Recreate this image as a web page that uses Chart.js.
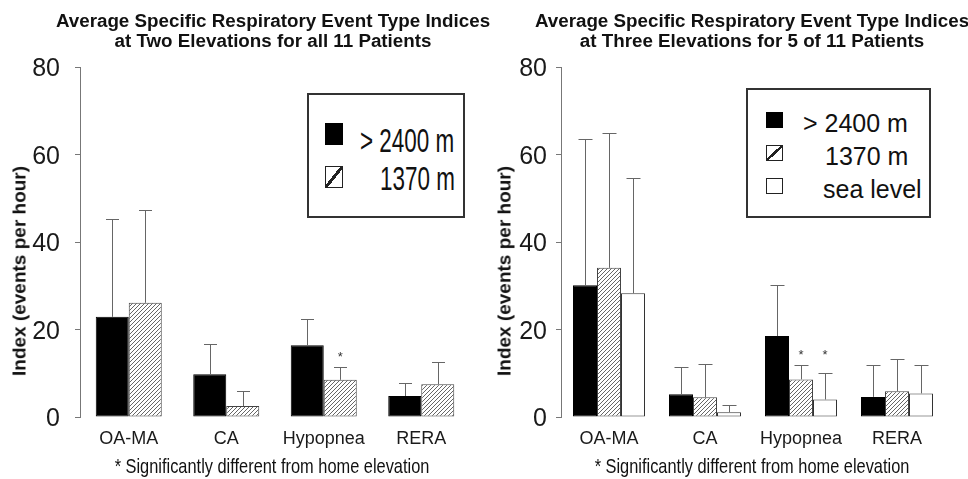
<!DOCTYPE html>
<html>
<head>
<meta charset="utf-8">
<script src="https://cdn.jsdelivr.net/npm/chart.js@4.4.1/dist/chart.umd.min.js"></script>
<style>
html,body{margin:0;padding:0;background:#fff;}
#wrap{position:relative;width:968px;height:479px;overflow:hidden;font-family:"Liberation Sans",Arial,sans-serif;color:#111;}
canvas{position:absolute;top:0;}
.title{position:absolute;top:11px;width:500px;margin-left:-250px;text-align:center;font-weight:bold;font-size:18.8px;line-height:20px;white-space:nowrap;}
.ytitle{position:absolute;font-weight:bold;font-size:19px;line-height:19px;white-space:nowrap;transform:translate(-50%,-50%) rotate(-90deg);}
.note{position:absolute;top:454px;width:600px;margin-left:-300px;text-align:center;font-size:21px;line-height:24px;white-space:nowrap;transform:scaleX(0.78);}
.legend{position:absolute;border:2px solid #333;box-sizing:border-box;background:#fff;}
.sw{position:absolute;box-sizing:border-box;}
.sw.black{background:#000;}
.sw.hatch{border:1.5px solid #222;background:linear-gradient(to bottom right,#fff 44%,#222 44%,#222 56%,#fff 56%);}
.sw.white{border:1.5px solid #222;background:#fff;}
.lt{position:absolute;white-space:nowrap;}
.lt.narrow{font-size:34px;line-height:34px;transform:scaleX(0.66);transform-origin:left center;}
.lt.norm{font-size:25px;line-height:25px;}
</style>
</head>
<body>
<div id="wrap">
  <canvas id="c1" width="484" height="479" style="left:0"></canvas>
  <canvas id="c2" width="484" height="479" style="left:484px"></canvas>

  <div class="title" style="left:273px">Average Specific Respiratory Event Type Indices<br>at Two Elevations for all 11 Patients</div>
  <div class="title" style="left:752px">Average Specific Respiratory Event Type Indices<br>at Three Elevations for 5 of 11 Patients</div>

  <div class="ytitle" style="left:19px;top:271px">Index (events per hour)</div>
  <div class="ytitle" style="left:504px;top:271px">Index (events per hour)</div>

  <div class="note" style="left:272px">* Significantly different from home elevation</div>
  <div class="note" style="left:752px">* Significantly different from home elevation</div>

  <div class="legend" style="left:307px;top:93px;width:158px;height:125px"></div>
  <div class="sw black" style="left:325px;top:123px;width:18px;height:22px"></div>
  <div class="sw hatch" style="left:325px;top:166px;width:18px;height:22px"></div>
  <div class="lt narrow" id="l1a" style="left:360px;top:123px"></div>
  <div class="lt narrow" id="l1b" style="left:380px;top:161px"></div>

  <div class="legend" style="left:746px;top:88px;width:185px;height:130px"></div>
  <div class="sw black" style="left:766px;top:112px;width:17px;height:16px"></div>
  <div class="sw hatch" style="left:766px;top:145px;width:17px;height:16px"></div>
  <div class="sw white" style="left:766px;top:178px;width:17px;height:16px"></div>
  <div class="lt norm" id="l2a" style="left:803px;top:111px"></div>
  <div class="lt norm" id="l2b" style="left:825px;top:144px"></div>
  <div class="lt norm" id="l2c" style="left:823px;top:177px"></div>
</div>
<script>
// ---------- data ----------
const categories = ['OA-MA', 'CA', 'Hypopnea', 'RERA'];
const yTicks = [0, 20, 40, 60, 80];
const seriesLabels = ['> 2400 m', '1370 m', 'sea level'];

// Left: two elevations, all 11 patients
const twoElev2400 = [22.9, 9.8, 16.4, 4.8];
const twoElev1370 = [26.1, 2.5, 8.5, 7.5];
const twoElevSd2400 = [22.3, 7.0, 6.1, 3.0];
const twoElevSd1370 = [21.1, 3.4, 2.9, 5.0];
const twoElevSig2400 = [false, false, false, false];
const twoElevSig1370 = [false, false, true, false];

// Right: three elevations, 5 of 11 patients
const threeElev2400 = [30.1, 5.2, 18.5, 4.6];
const threeElev1370 = [34.1, 4.5, 8.6, 5.9];
const threeElevSea = [28.3, 1.1, 4.0, 5.4];
const threeElevSd2400 = [33.5, 6.3, 11.6, 7.4];
const threeElevSd1370 = [30.9, 7.6, 3.3, 7.3];
const threeElevSdSea = [26.3, 1.6, 6.1, 6.5];
const threeElevSig2400 = [false, false, false, false];
const threeElevSig1370 = [false, false, true, false];
const threeElevSigSea = [false, false, true, false];

// ---------- legend text ----------
document.getElementById('l1a').textContent = seriesLabels[0];
document.getElementById('l1b').textContent = seriesLabels[1];
document.getElementById('l2a').textContent = seriesLabels[0];
document.getElementById('l2b').textContent = seriesLabels[1];
document.getElementById('l2c').textContent = seriesLabels[2];

const FONT = '"Liberation Sans", Arial, sans-serif';

function hatchPattern() {
  const c = document.createElement('canvas');
  c.width = 4; c.height = 4;
  const x = c.getContext('2d');
  x.fillStyle = '#fff'; x.fillRect(0, 0, 4, 4);
  x.strokeStyle = '#666'; x.lineWidth = 1;
  x.beginPath();
  x.moveTo(-1, 5); x.lineTo(5, -1);
  x.moveTo(-1, 1); x.lineTo(1, -1);
  x.moveTo(3, 5); x.lineTo(5, 3);
  x.stroke();
  return x.createPattern(c, 'repeat');
}
const HATCH = hatchPattern();

const errorBars = {
  id: 'errorBars',
  afterDatasetsDraw(chart, args, opts) {
    const ctx = chart.ctx, ys = chart.scales.y;
    ctx.save();
    ctx.strokeStyle = opts.color;
    ctx.lineWidth = 1;
    const caps = [];
    chart.data.datasets.forEach((ds, i) => {
      const meta = chart.getDatasetMeta(i);
      caps[i] = [];
      meta.data.forEach((bar, j) => {
        const top = Math.round(ys.getPixelForValue(ds.data[j] + ds.sd[j])) + 0.5;
        const x = Math.round(bar.x) + 0.5;
        caps[i][j] = top;
        ctx.beginPath();
        ctx.moveTo(x, bar.y);
        ctx.lineTo(x, top);
        ctx.moveTo(x - opts.cap / 2, top);
        ctx.lineTo(x + opts.cap / 2, top);
        ctx.stroke();
      });
    });
    // significance asterisks
    ctx.fillStyle = '#333';
    ctx.font = '13px ' + FONT;
    ctx.textAlign = 'center';
    ctx.textBaseline = 'alphabetic';
    categories.forEach((c, j) => {
      const sigIdx = chart.data.datasets.map((ds, i) => ds.sig[j] ? i : -1).filter(i => i >= 0);
      if (!sigIdx.length) return;
      const yTop = Math.min(...sigIdx.map(i => caps[i][j]));
      sigIdx.forEach(i => {
        const bar = chart.getDatasetMeta(i).data[j];
        ctx.fillText('*', bar.x, yTop - 14 + 7.5);
      });
    });
    ctx.restore();
  }
};

function makeChart(id, datasets, o) {
  return new Chart(document.getElementById(id), {
    type: 'bar',
    data: { labels: categories, datasets },
    options: {
      responsive: false,
      animation: false,
      layout: { padding: { top: 67, right: o.padRight, left: 0, bottom: 0 } },
      plugins: {
        legend: { display: false },
        tooltip: { enabled: false },
        errorBars: { color: '#666', cap: o.cap }
      },
      datasets: { bar: { barPercentage: 1, categoryPercentage: o.catPct } },
      scales: {
        x: {
          grid: { display: false },
          border: { display: false },
          ticks: { font: { family: FONT, size: 18 }, color: '#1a1a1a', padding: 3 },
          afterFit(s) { s.height = 62; }
        },
        y: {
          min: 0, max: 80,
          afterBuildTicks(s) { s.ticks = yTicks.map(v => ({ value: v })); },
          grid: { display: true, drawOnChartArea: false, drawTicks: true, tickLength: 5, color: '#777' },
          border: { display: true, color: '#777', width: 1 },
          ticks: { font: { family: FONT, size: 25 }, color: '#1a1a1a', padding: o.yPad, labelOffset: 2.5 },
          afterFit(s) { s.width = o.yWidth; }
        }
      }
    },
    plugins: [errorBars]
  });
}

makeChart('c1', [
  { label: seriesLabels[0], data: twoElev2400, sd: twoElevSd2400, sig: twoElevSig2400,
    backgroundColor: '#000', borderColor: '#000', borderWidth: 1, borderSkipped: false },
  { label: seriesLabels[1], data: twoElev1370, sd: twoElevSd1370, sig: twoElevSig1370,
    backgroundColor: HATCH, borderColor: '#444', borderWidth: 1, borderSkipped: false }
], { padRight: 14, cap: 13, catPct: 0.677, yPad: 15, yWidth: 80 });

makeChart('c2', [
  { label: seriesLabels[0], data: threeElev2400, sd: threeElevSd2400, sig: threeElevSig2400,
    backgroundColor: '#000', borderColor: '#000', borderWidth: 1, borderSkipped: false },
  { label: seriesLabels[1], data: threeElev1370, sd: threeElevSd1370, sig: threeElevSig1370,
    backgroundColor: HATCH, borderColor: '#444', borderWidth: 1, borderSkipped: false },
  { label: seriesLabels[2], data: threeElevSea, sd: threeElevSdSea, sig: threeElevSigSea,
    backgroundColor: '#fff', borderColor: '#333', borderWidth: 1, borderSkipped: false }
], { padRight: 23, cap: 14, catPct: 0.75, yPad: 9, yWidth: 77 });
</script>
</body>
</html>
